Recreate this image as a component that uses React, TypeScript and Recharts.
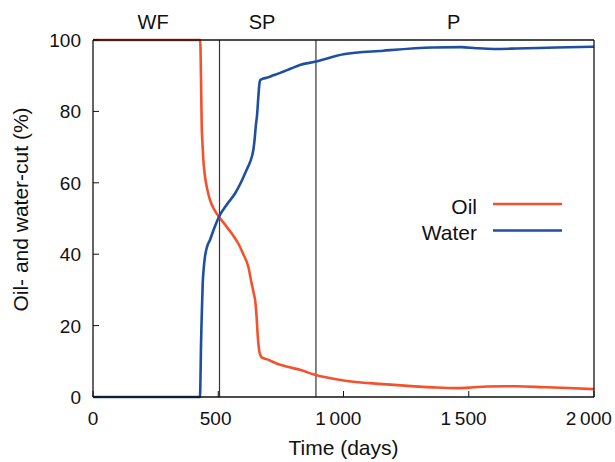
import React from "react";
import {
  LineChart,
  Line,
  XAxis,
  YAxis,
  ReferenceLine,
  ReferenceDot,
  Legend,
  Label,
} from "recharts";

// oil-cut curve (days, %)
const oilDays = [
  0, 428, 431, 434, 437, 440, 445, 451, 460, 467, 480, 503, 530, 554, 580, 600,
  620, 633, 642, 647, 653, 657, 663, 668, 673, 693, 733, 780, 826, 886, 1000,
  1158, 1357, 1452, 1510, 1572, 1691, 1800, 1900, 2000,
];
const oilCut = [
  100, 100, 90, 76, 71, 67, 63, 60, 57, 55.2, 53, 50.5, 48, 45.8, 43, 40, 36.5,
  31.9, 29, 27.2, 22.5, 17.8, 13.2, 11.8, 11.1, 10.6, 9.4, 8.4, 7.6, 6.2, 4.6,
  3.6, 2.7, 2.5, 2.65, 2.95, 3.0, 2.75, 2.5, 2.2,
];

// water-cut curve
const waterDays = [
  0, 427, 429, 431, 434, 438, 442, 447, 455, 467, 485, 503, 535, 567, 590, 613,
  628, 640, 645, 650, 655, 660, 664, 668, 680, 693, 720, 747, 790, 826, 886,
  1000, 1158, 1357, 1470, 1530, 1600, 1691, 1850, 2000,
];
const waterCut = [
  0, 0, 5, 14, 22.5, 31.9, 36, 39.3, 42, 44, 47.5, 50.5, 54, 57, 60, 63.6, 66,
  69.2, 72, 76, 79, 84, 87.5, 88.8, 89.2, 89.4, 90.1, 90.8, 92, 93.0, 93.9,
  96.0, 97.0, 97.9, 98.0, 97.7, 97.5, 97.6, 97.9, 98.1,
];

// phases
const phaseBounds = [505, 890];
const phaseNames = ["WF", "SP", "P"];
const phaseLabelAt = [240, 675, 1440];

const xTicks = [0, 500, 1000, 1500, 2000];
const xTickLabels = ["0", "500", "1\u2009000", "1\u2009500", "2\u2009000"];
const yTicks = [0, 20, 40, 60, 80, 100];
const yTickLabels = ["0", "20", "40", "60", "80", "100"];

const oilData = oilDays.map((d, i) => ({ day: d, value: oilCut[i] }));
const waterData = waterDays.map((d, i) => ({ day: d, value: waterCut[i] }));

const FONT = "'Liberation Sans', Arial, Helvetica, sans-serif";
const INK = "#111";
const OIL = "#F4522D";
const WATER = "#1E4FA0";

const BottomTick = (props: any) => {
  const { x, y, payload } = props;
  const label = xTickLabels[xTicks.indexOf(payload.value)] || "";
  // the original labels sit a little left of their ticks, more so the wide ones
  const shift = -(label.length - 1) * 1.3;
  return (
    <g>
      <line x1={x} x2={x} y1={y} y2={y - 6} stroke={INK} strokeWidth={1} />
      <text x={x + shift} y={y + 28} textAnchor="middle" fontSize={19} fontFamily={FONT} fill={INK}>
        {label}
      </text>
    </g>
  );
};

const TopTick = (props: any) => {
  const { x, y } = props;
  return <line x1={x} x2={x} y1={y} y2={y + 6} stroke={INK} strokeWidth={1} />;
};

const LeftTick = (props: any) => {
  const { x, y, payload } = props;
  const i = yTicks.indexOf(payload.value);
  return (
    <g>
      <line x1={x} x2={x + 6} y1={y} y2={y} stroke={INK} strokeWidth={1} />
      <text x={x - 12} y={y + 7} textAnchor="end" fontSize={19} fontFamily={FONT} fill={INK}>
        {yTickLabels[i]}
      </text>
    </g>
  );
};

const RightTick = (props: any) => {
  const { x, y } = props;
  return <line x1={x} x2={x - 6} y1={y} y2={y} stroke={INK} strokeWidth={1} />;
};

const YTitle = (props: any) => {
  const vb = props.viewBox || { x: 0, y: 40, width: 93, height: 357 };
  const cx = vb.x + 28;
  const cy = vb.y + vb.height / 2 - 9;
  return (
    <text
      x={cx}
      y={cy}
      transform={`rotate(-90, ${cx}, ${cy})`}
      textAnchor="middle"
      fontSize={21}
      fontFamily={FONT}
      fill={INK}
    >
      Oil- and water-cut (%)
    </text>
  );
};

const renderLegend = (props: any) => {
  const { payload } = props;
  return (
    <svg width={180} height={60}>
      {(payload || []).map((p: any, i: number) => (
        <g key={p.value}>
          <text x={77} y={24 + i * 26} textAnchor="end" fontSize={21} fontFamily={FONT} fill={INK}>
            {p.value}
          </text>
          <line x1={93} x2={162} y1={14 + i * 26.5} y2={14 + i * 26.5} stroke={p.color} strokeWidth={2.6} />
        </g>
      ))}
    </svg>
  );
};

export default function App() {
  return (
    <div
      style={{
        position: "absolute",
        left: 0,
        top: 0,
        width: 615,
        height: 462,
        background: "#fff",
        fontFamily: FONT,
      }}
    >
      <LineChart width={615} height={462} margin={{ top: 20, right: 11, bottom: 0, left: 0 }}>
        <XAxis
          dataKey="day"
          type="number"
          domain={[0, 2000]}
          ticks={xTicks}
          interval={0}
          height={65}
          tickSize={0}
          tickMargin={0}
          tickLine={false}
          tick={BottomTick}
          axisLine={{ stroke: INK, strokeWidth: 1.3 }}
          allowDuplicatedCategory={false}
        >
          <Label
            value="Time (days)"
            position="insideBottom"
            offset={7}
            fontSize={21}
            fontFamily={FONT}
            fill={INK}
          />
        </XAxis>
        <XAxis
          xAxisId="top"
          orientation="top"
          type="number"
          domain={[0, 2000]}
          ticks={xTicks}
          interval={0}
          height={20}
          tickSize={0}
          tickMargin={0}
          tickLine={false}
          tick={TopTick}
          axisLine={{ stroke: INK, strokeWidth: 1.3 }}
        />
        <YAxis
          type="number"
          domain={[0, 100]}
          ticks={yTicks}
          interval={0}
          width={93}
          tickSize={0}
          tickMargin={0}
          tickLine={false}
          tick={LeftTick}
          axisLine={{ stroke: INK, strokeWidth: 1.3 }}
        >
          <Label content={YTitle} />
        </YAxis>
        <YAxis
          yAxisId="right"
          orientation="right"
          type="number"
          domain={[0, 100]}
          ticks={yTicks}
          interval={0}
          width={10}
          tickSize={0}
          tickMargin={0}
          tickLine={false}
          tick={RightTick}
          axisLine={{ stroke: INK, strokeWidth: 1.3 }}
        />
        {phaseBounds.map((b) => (
          <ReferenceLine key={b} x={b} stroke="#333" strokeWidth={1.2} />
        ))}
        {phaseNames.map((n, i) => (
          <ReferenceDot
            key={n}
            x={phaseLabelAt[i]}
            y={100}
            r={0}
            fill="none"
            stroke="none"
            label={{ value: n, position: "top", offset: 11, fontSize: 20, fontFamily: FONT, fill: INK }}
          />
        ))}
        <Legend
          layout="vertical"
          verticalAlign="middle"
          align="center"
          content={renderLegend}
          wrapperStyle={{ left: 400, top: 190, width: 180, height: 60 }}
        />
        <Line
          data={oilData}
          dataKey="value"
          name="Oil"
          type="monotone"
          stroke={OIL}
          strokeWidth={2.6}
          dot={false}
          isAnimationActive={false}
        />
        <Line
          data={waterData}
          dataKey="value"
          name="Water"
          type="monotone"
          stroke={WATER}
          strokeWidth={2.6}
          dot={false}
          isAnimationActive={false}
        />
      </LineChart>
    </div>
  );
}
